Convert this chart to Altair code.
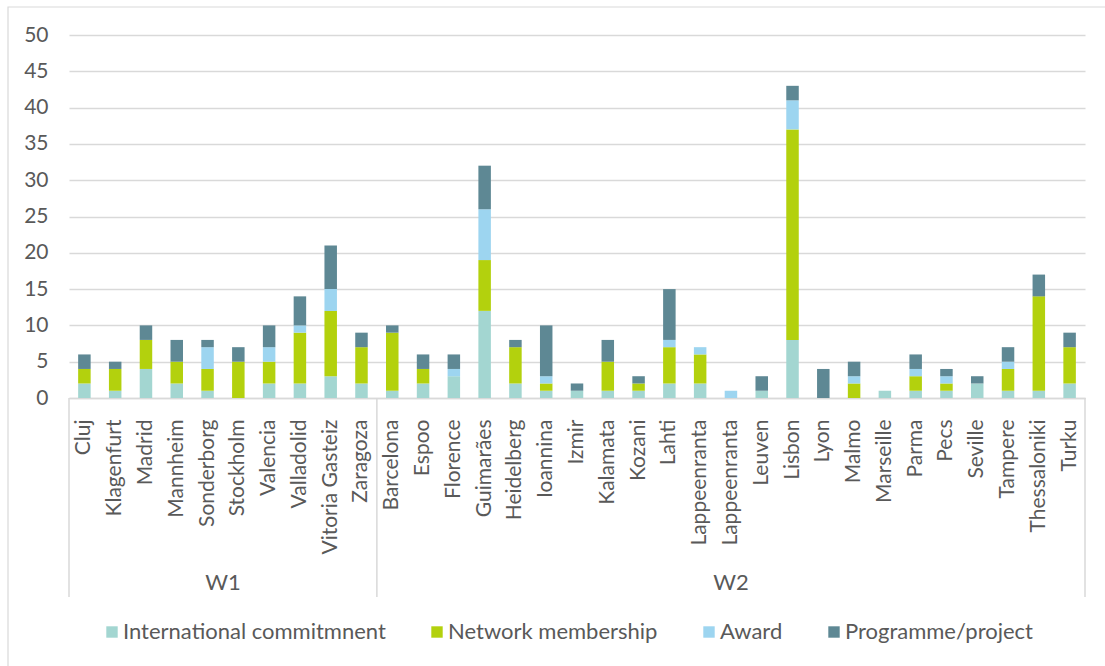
import json
import altair as alt
import pandas as pd

cities = ["Cluj", "Klagenfurt", "Madrid", "Mannheim", "Sonderborg", "Stockholm",
          "Valencia", "Valladolid", "Vitoria Gasteiz", "Zaragoza",
          "Barcelona", "Espoo", "Florence", "Guimarães", "Heidelberg", "Ioannina",
          "Izmir", "Kalamata", "Kozani", "Lahti", "Lappeenranta", "Lappeenranta",
          "Leuven", "Lisbon", "Lyon", "Malmo", "Marseille", "Parma", "Pecs",
          "Seville", "Tampere", "Thessaloniki", "Turku"]
groups = ["W1"] * 10 + ["W2"] * 23

international = [2, 1, 4, 2, 1, 0, 2, 2, 3, 2,
                 1, 2, 3, 12, 2, 1, 1, 1, 1, 2, 2, 0, 1, 8, 0, 0, 1, 1, 1, 2, 1, 1, 2]
network = [2, 3, 4, 3, 3, 5, 3, 7, 9, 5,
           8, 2, 0, 7, 5, 1, 0, 4, 1, 5, 4, 0, 0, 29, 0, 2, 0, 2, 1, 0, 3, 13, 5]
award = [0, 0, 0, 0, 3, 0, 2, 1, 3, 0,
         0, 0, 1, 7, 0, 1, 0, 0, 0, 1, 1, 1, 0, 4, 0, 1, 0, 1, 1, 0, 1, 0, 0]
programme = [2, 1, 2, 3, 1, 2, 3, 4, 6, 2,
             1, 2, 2, 6, 1, 7, 1, 3, 1, 7, 0, 0, 2, 2, 4, 2, 0, 2, 1, 1, 2, 3, 2]

series_names = ["International commitmnent", "Network membership", "Award", "Programme/project"]
series_colors = ["#a3d6d1", "#b3d10d", "#9dd5f0", "#5e8894"]

FONT = "Lato"
GREY = "#595959"
LINE = "#d9d9d9"
W, H = 1016, 363

rows = []
for i, c in enumerate(cities):
    for k, (name, vals) in enumerate(zip(series_names, [international, network, award, programme])):
        rows.append({"idx": i, "city": c, "group": groups[i], "series": name,
                     "order": k, "value": vals[i]})
df = pd.DataFrame(rows)

# group spans (start / end in category units) derived from the group list
grp_rows = []
for g in ["W1", "W2"]:
    ids = [i for i, x in enumerate(groups) if x == g]
    grp_rows.append({"group": g, "start": ids[0], "end": ids[-1] + 1,
                     "mid": (ids[0] + ids[-1] + 1) / 2})
gdf = pd.DataFrame(grp_rows)
bounds = pd.DataFrame({"b": sorted(set(gdf["start"]).union(set(gdf["end"])))})

label_expr = json.dumps(cities) + "[datum.value]"

bars = alt.Chart(df).mark_bar(size=12.5).encode(
    x=alt.X("idx:O", title=None,
            scale=alt.Scale(paddingInner=0, paddingOuter=0),
            axis=alt.Axis(labelExpr=label_expr, labelAngle=-90, ticks=False,
                          domainColor=LINE, domainWidth=1.5, labelPadding=21,
                          labelFont=FONT, labelFontSize=21, labelColor=GREY,
                          labelLimit=300)),
    y=alt.Y("value:Q", stack="zero", title=None,
            scale=alt.Scale(domain=[0, 50]),
            axis=alt.Axis(values=list(range(0, 51, 5)), domain=False, ticks=False,
                          gridColor=LINE, gridWidth=1.3, labelPadding=21,
                          labelFont=FONT, labelFontSize=21, labelColor=GREY)),
    color=alt.Color("series:N", sort=series_names,
                    scale=alt.Scale(domain=series_names, range=series_colors),
                    legend=alt.Legend(title=None, orient="none", direction="horizontal",
                                      legendX=32, legendY=586, columns=4,
                                      symbolType="square", symbolSize=130,
                                      symbolStrokeWidth=0, labelOffset=0,
                                      columnPadding=40, padding=0,
                                      labelFont=FONT, labelFontSize=22,
                                      labelColor=GREY, labelLimit=400)),
    order=alt.Order("order:Q"),
)

xq = alt.Scale(domain=[0, len(cities)], range=[0, W], nice=False, zero=False)

seps = alt.Chart(bounds).mark_rule(color=LINE, strokeWidth=1.5).encode(
    x=alt.X("b:Q", scale=xq, axis=None),
    y=alt.value(H),
    y2=alt.value(H + 199),
)

glabels = alt.Chart(gdf).mark_text(font=FONT, fontSize=22, color=GREY,
                                   baseline="middle", align="center").encode(
    x=alt.X("mid:Q", scale=xq, axis=None),
    y=alt.value(H + 185),
    text="group:N",
)

frame = alt.Chart(pd.DataFrame({"f": [0]})).mark_rect(
    fill=None, stroke=LINE, strokeWidth=1.2).encode(
    x=alt.value(8 - 69), x2=alt.value(1125 - 69),
    y=alt.value(7 - 35), y2=alt.value(690 - 35),
)

chart = alt.layer(bars, seps, glabels, frame).resolve_scale(x="independent").properties(
    width=W, height=H,
    autosize=alt.AutoSizeParams(type="none"),
    padding={"left": 69, "top": 35, "right": 20, "bottom": 268},
).configure_view(stroke=None)

chart.save("out.html", embed_options={"renderer": "svg", "actions": False})
